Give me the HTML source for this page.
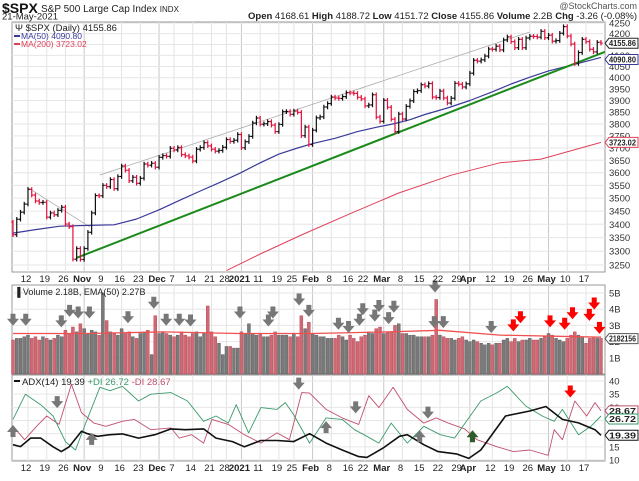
<!DOCTYPE html>
<html><head><meta charset="utf-8"><style>
html,body{margin:0;padding:0;background:#fff;}
body{width:639px;height:476px;overflow:hidden;font-family:"Liberation Sans",sans-serif;}
svg text{font-family:"Liberation Sans",sans-serif;}
</style></head><body>
<svg id="chart" width="639" height="476" xmlns="http://www.w3.org/2000/svg">
<text x="2" y="13" font-size="14" font-weight="bold" fill="#111">$SPX</text>
<text x="41" y="12" font-size="10" fill="#222">S&amp;P 500 Large Cap Index <tspan font-size="8">INDX</tspan></text>
<text x="2" y="19.5" font-size="9.5" fill="#222">21-May-2021</text>
<text x="637" y="9" font-size="9" fill="#555" text-anchor="end">@StockCharts.com</text>
<text x="248" y="19" font-size="9.5" fill="#222"><tspan font-weight="bold">Open</tspan> 4168.61 <tspan font-weight="bold">High</tspan> 4188.72 <tspan font-weight="bold">Low</tspan> 4151.72 <tspan font-weight="bold">Close</tspan> 4155.86 <tspan font-weight="bold">Volume</tspan> 2.2B <tspan font-weight="bold">Chg</tspan> -3.26 (-0.08%) <tspan fill="#c00">▾</tspan></text>
<g id="main"></g>
</svg>
<script>
// ---- data ----
const closes = [3361,3419,3446,3477,3534,3512,3489,3483,3484,3427,3443,3436,3453,3465,3401,3391,3271,3310,3270,
3310,3370,3443,3510,3509,3550,3545,3573,3537,3585,3627,3610,3568,3582,3558,3578,3635,3630,3638,3622,
3662,3669,3666,3699,3692,3702,3673,3668,3663,3647,3695,3702,3722,3709,3695,3687,3690,3703,3735,3727,3732,3756,
3701,3726,3748,3804,3825,3799,3801,3810,3795,3768,3798,3852,3853,3841,3855,3849,3751,3787,3714,
3774,3826,3830,3872,3887,3915,3911,3909,3917,3934,3933,3931,3914,3907,3877,3881,3925,3829,3811,
3901,3871,3820,3768,3842,3821,3875,3899,3939,3943,3969,3963,3974,3915,3913,3941,3911,3889,3910,3975,3971,3959,3973,
4020,4078,4074,4080,4097,4129,4128,4142,4125,4171,4185,4163,4135,4174,4135,4180,4188,4187,4184,4211,4181,
4193,4165,4168,4202,4233,4189,4152,4063,4113,4174,4163,4128,4116,4160,4156];
const firstOpen = 3408;
const volumes = [2.1,2.2,2.2,2.3,2.4,2.2,2.3,2.1,2.3,2.2,2.1,2.2,2.4,2.3,2.7,2.5,2.9,2.6,3.1,
2.8,2.5,2.7,2.6,2.4,5.0,3.3,2.6,2.5,2.4,2.8,2.5,2.6,2.3,2.2,2.5,2.6,2.7,1.2,3.6,
2.5,2.6,2.5,2.4,2.3,2.4,2.6,2.4,2.3,2.5,2.6,2.3,2.5,4.2,2.6,2.3,1.9,1.2,1.7,1.7,1.6,1.6,
2.6,2.5,3.1,2.5,2.4,2.5,2.3,2.3,2.4,2.6,2.4,2.4,2.4,2.3,2.5,2.3,3.6,2.8,3.2,
2.5,2.4,2.3,2.3,2.2,2.2,2.2,2.4,2.3,2.1,2.4,2.2,2.0,2.3,2.4,2.6,2.5,2.8,2.9,
2.5,2.6,2.6,3.0,3.1,2.5,2.5,2.4,2.4,2.3,2.3,2.3,2.3,2.4,4.6,2.4,2.3,2.2,2.2,2.1,2.2,2.3,2.1,
2.0,2.1,2.0,1.9,1.8,1.9,1.8,1.9,1.9,2.1,2.2,2.0,2.2,2.0,2.1,2.1,2.2,2.1,2.1,2.2,2.3,
2.5,2.4,2.2,2.1,2.0,2.2,2.4,2.6,2.4,2.3,1.9,2.2,2.3,2.2,2.2];
const volEmaIdx = [0,20,40,60,80,100,114,130,157];
const volEmaVal = [2.5,2.5,2.6,2.5,2.5,2.6,2.7,2.4,2.27];
const ma50Idx = [0,6,12.5,20,27,33,39,45,50,55,60.6,66,71,76,80,86,92,97,102,106,110,116,122,128,133,138,143,150,157];
const ma50Val = [3367,3380,3393,3396,3398,3420,3455,3495,3528,3560,3598,3640,3675,3700,3718,3740,3768,3786,3802,3818,3840,3868,3900,3938,3972,4002,4030,4060,4091];
const ma200Idx = [57,66,77,90,103,117,130,141,157];
const ma200Val = [3230,3290,3360,3440,3520,3590,3640,3655,3723];
const adxIdx = [0,2,4.7,7.4,10.7,12.9,15,18.3,19.9,22.6,25.9,29.2,33.5,37.9,42.2,46,50.9,54.2,58.6,61.8,66.2,70.5,74.9,79.2,83.6,87.9,92.3,94.5,98.8,103.2,105.3,109.7,113.5,118.4,121.7,124.9,131.5,138,142.3,146.7,151,155.4,157];
const adxVal = [15.8,15.1,18.3,18.3,15,13.2,15,20.9,20,19,19.6,19.9,18.3,19.6,21.8,21.5,21.8,18.3,17,15,17.4,17.4,17,20,16.4,13.8,11.3,11,14.5,19,19.6,15.8,13.2,12.3,10.6,13.8,26.7,28.6,30.3,25.4,24.1,21.5,19.39];
const pdiIdx = [0,3.3,7.4,10.7,14,16.7,19.4,23.2,25.9,29.2,33.5,36.8,42.2,46.6,50.9,54.2,57.5,59.6,62.9,66.2,70.5,72.7,74.9,79.2,83.6,87.9,91.2,94.5,97.7,101,105.3,109.7,114.1,117.9,121.7,124.9,129.3,132,136.9,141.3,144.5,146.7,151,154.3,157];
const pdiVal = [25.4,35,31,26.7,17,13.8,24,37.6,36.3,38,32.4,35,35.6,32.4,24.7,26.7,24,31,20.3,29.9,29.2,31.8,27.3,16.4,26,25.4,21.5,19,16.4,24,16.4,22.8,19.6,18.3,26,32.4,35.6,38,30.5,26.7,24.7,29.2,19.6,22.8,26.72];
const mdiIdx = [0,3.1,6.3,9,12.3,15.6,18.3,21.6,24.8,29.2,32.4,36.8,42.2,44.4,47.7,50.9,53.1,57.5,61.8,66.2,70.5,73.8,77.1,79.2,83.6,87.9,92.3,95,97.7,101.5,105.3,109.7,113,116.2,120.6,123.9,129.3,133.6,138,142.9,144.5,146.7,150,153.2,155.4,157];
const mdiVal = [22.8,17.7,22.8,26.7,23.5,38.8,28,24,22.8,24.7,25.4,21.5,22.2,18.3,19.6,16.4,25.4,23.5,19.6,16.4,20.3,17.7,35.6,35.4,29.2,26,23.5,34.4,29.9,37.6,29.2,24,26,24,21.8,17.7,15,13.2,13.8,11.8,21.5,17.7,32.4,26.7,31.8,28.67];
const priceTicks = [3250,3300,3350,3400,3450,3500,3550,3600,3650,3700,3750,3800,3850,3900,3950,4000,4050,4100,4150,4200,4250];
const volTicks = [1,2,3,4,5];
const adxTicks = [10,15,20,25,30,35,40];
const dateIdx = [4,9,14,19,24,29,34,39,43,48,53,57,61,66,71,75,80,85,90,94,99,104,109,114,119,122,128,133,138,143,148,153];
const dateLbl = ["12","19","26","Nov","9","16","23","Dec","7","14","21","28","2021","11","19","25","Feb","8","16","22","Mar","8","15","22","29","Apr","12","19","26","May","10","17"];
const trendIdx = [17,158]; const trendVal = [3276,4116];
const grey1Idx = [3.7,20.6]; const grey1Val = [3544,3389];
const grey2Idx = [23.2,138]; const grey2Val = [3591,4208];
const volArrowIdx = [0,3.4,12.9,15.1,17.4,20.4,30.7,37.6,40.9,44.4,47.4,60.6,68.2,69.4,76.4,79,86.9,89.6,92.5,93.4,96.6,97.7,100.3,101.7,112.5,112.7,114.9,127.7];
const volArrowVal = [3.35,3.35,3.25,3.9,3.8,3.8,3.5,4.4,3.35,3.35,3.3,3.8,3.3,3.8,4.6,3.9,3.1,2.9,3.35,4.0,3.6,4.2,3.45,4.15,3.2,5.4,3.2,2.9];
const volRedIdx = [133.6,135.5,143.4,147.3,149.4,153.9,155.2,156.6];
const volRedVal = [3.0,3.5,3.25,3.1,3.75,3.65,4.35,2.85];
const adxDownIdx = [11.8,76.3,91.5,110.8]; const adxDownVal = [32,39,30,28];
const adxUpIdx = [0,21,83.6,108.6]; const adxUpVal = [21,18,22.5,19];
// ---- layout ----
const NS="http://www.w3.org/2000/svg";
const root=document.getElementById('main');
const L=12,R=605;
const xOf=i=>13+i*3.745;
const PT=22,PB=272, VT=285,VB=374, AT=375,AB=461;
const yP=p=>23+Math.log(4250/p)/Math.log(4250/3250)*242;
const yV=v=>374-v*16.2;
const yA=v=>381+(40-v)*2.633;
function mk(tag,attrs,parent){const e=document.createElementNS(NS,tag);for(const k in attrs)e.setAttribute(k,attrs[k]);(parent||root).appendChild(e);return e;}
function panel(top,bot,name){
  const g=mk('g',{});
  
  
  mk('rect',{x:L,y:top,width:R-L,height:bot-top,fill:'#fff',stroke:'#999','stroke-width':1},g);
  return g;
}
const gMain=panel(PT,PB,'price-panel');
const gVol=panel(VT,VB,'volume-panel');
const gAdx=panel(AT,AB,'adx-panel');
function vgrid(g,top,bot){dateIdx.forEach((d,k)=>{const l=mk('line',{x1:xOf(d),x2:xOf(d),y1:top,y2:bot,stroke:dateLbl[k].match(/[A-Za-z]|2021/)?'#c8c8c8':'#e4e4e4','stroke-width':1},g);});}
vgrid(gMain,PT,PB);vgrid(gVol,VT,VB);vgrid(gAdx,AT,AB);
priceTicks.forEach(p=>{const y=yP(p);
  const l=mk('line',{x1:L,x2:R,y1:y,y2:y,stroke:'#e6e6e6'},gMain);
  
  
  const t=mk('text',{x:609,y:y+3.5,'font-size':9.5,fill:'#333'},gMain);t.textContent=p;
  
  });
volTicks.forEach(v=>{const y=yV(v);
  const l=mk('line',{x1:L,x2:R,y1:y,y2:y,stroke:'#e6e6e6'},gVol);
  
  
  const t=mk('text',{x:609,y:y+3.5,'font-size':9.5,fill:'#333'},gVol);t.textContent=v+'B';
  
  });
adxTicks.forEach(v=>{const y=yA(v);
  const l=mk('line',{x1:L,x2:R,y1:y,y2:y,stroke:'#e6e6e6'},gAdx);
  
  
  const t=mk('text',{x:609,y:y+3.5,'font-size':9.5,fill:'#333'},gAdx);t.textContent=v;
  
  });
function dateAxis(y,name){dateIdx.forEach((d,k)=>{const s=dateLbl[k];const bold=/[A-Za-z]|2021/.test(s);
  const t=mk('text',{x:xOf(d)-2,y:y,'font-size':9.5,'text-anchor':'middle',fill:'#222','font-weight':bold?'bold':'normal'});t.textContent=s;
  
  });}
dateAxis(282,'date-label-top');dateAxis(471,'date-label-bottom');
const defs=mk('defs',{});
const cp=mk('clipPath',{id:'cpMain'},defs);mk('rect',{x:L,y:PT,width:R-L,height:PB-PT},cp);
const cpa=mk('clipPath',{id:'cpAdx'},defs);mk('rect',{x:L,y:AT,width:R-L,height:AB-AT},cpa);
function poly(g,idx,val,fy,color,w,name,clip){const pts=idx.map((d,k)=>xOf(d).toFixed(1)+','+fy(val[k]).toFixed(1)).join(' ');
  const e=mk('polyline',{points:pts,fill:'none',stroke:color,'stroke-width':w,'stroke-linejoin':'round'},g);if(clip)e.setAttribute('clip-path','url(#'+clip+')');
  
  return e;}
poly(gMain,grey1Idx,grey1Val,yP,'#aaa',0.8,'trendline-grey-down','cpMain');
poly(gMain,grey2Idx,grey2Val,yP,'#aaa',0.8,'trendline-grey-up','cpMain');
poly(gMain,ma200Idx,ma200Val,yP,'#e0405a',1,'ma200-line','cpMain');
poly(gMain,ma50Idx,ma50Val,yP,'#3a3a9a',1.2,'ma50-line','cpMain');
poly(gMain,trendIdx,trendVal,yP,'#1a8a1a',2,'trendline-green','cpMain');
closes.forEach((c,i)=>{const o=i?closes[i-1]:firstOpen;const col=c<o?'#e3103c':'#111';
  const hi=Math.max(o,c)*1.0025,lo=Math.min(o,c)*0.9975;const x=xOf(i);
  const g=mk('g',{stroke:col,'stroke-width':1.2},gMain);
  
  
  mk('line',{x1:x,x2:x,y1:yP(hi),y2:yP(lo)},g);
  mk('line',{x1:x-1.8,x2:x,y1:yP(o),y2:yP(o)},g);
  mk('line',{x1:x,x2:x+1.8,y1:yP(c),y2:yP(c)},g);});
volumes.forEach((v,i)=>{const o=i?closes[i-1]:firstOpen;const down=closes[i]<o;
  const r=mk('rect',{x:xOf(i)-1.5,y:yV(v),width:3,height:VB-yV(v),fill:down?'#cf6a74':'#7a7a7a',stroke:down?'#b04050':'#555','stroke-width':0.4},gVol);
  
  });
poly(gVol,volEmaIdx,volEmaVal,yV,'#f05050',1.3,'volume-ema-line');
function arrow(g,x,y,dir,col,name){const d=dir<0?
  `M${x-2.5},${y-6}h5v5h3.5l-6,7l-6,-7h3.5z`:`M${x-2.5},${y+6}h5v-5h3.5l-6,-7l-6,7h3.5z`;
  const p=mk('path',{d:d,fill:col},g);
  
  }
volArrowIdx.forEach((d,k)=>arrow(gVol,xOf(d),yV(volArrowVal[k]),-1,'#777','volume-grey-arrow'));
volRedIdx.forEach((d,k)=>arrow(gVol,xOf(d),yV(volRedVal[k]),-1,'#f00','volume-red-arrow'));
poly(gAdx,mdiIdx,mdiVal,yA,'#c0506e',0.9,'minus-di-line','cpAdx');
poly(gAdx,pdiIdx,pdiVal,yA,'#3a9a6a',0.9,'plus-di-line','cpAdx');
poly(gAdx,adxIdx,adxVal,yA,'#111',1.6,'adx-line','cpAdx');
adxDownIdx.forEach((d,k)=>arrow(gAdx,xOf(d),yA(adxDownVal[k]),-1,'#777','adx-grey-down-arrow'));
adxUpIdx.forEach((d,k)=>arrow(gAdx,Math.max(xOf(d),7),yA(adxUpVal[k]),1,'#777','adx-grey-up-arrow'));
arrow(gAdx,xOf(122.7),yA(19),1,'#2f5a2a','adx-green-up-arrow');
arrow(gAdx,xOf(148.8),yA(36),-1,'#f00','adx-red-down-arrow');
function txt(x,y,s,col,fs,name,g){const t=mk('text',{x:x,y:y,'font-size':fs,fill:col},g||root);t.textContent=s;
  
  return t;}
txt(15,31,'\u03A8 $SPX (Daily) 4155.86','#222',9.5,'legend-price');
mk('line',{x1:14,x2:20,y1:36,y2:36,stroke:'#3a3a9a','stroke-width':2});
txt(21,39,'MA(50) 4090.80','#3a3a9a',8.5,'legend-ma50');
mk('line',{x1:14,x2:20,y1:44,y2:44,stroke:'#e0405a','stroke-width':2});
txt(21,47,'MA(200) 3723.02','#e0405a',8.5,'legend-ma200');
txt(14,295,'\u2590 Volume 2.18B, EMA(50) 2.27B','#222',9,'legend-volume');
mk('line',{x1:14,x2:20,y1:381,y2:381,stroke:'#111','stroke-width':2});
const ta=txt(22,385,'ADX(14) 19.39 ','#222',9.5,'legend-adx');
const t1=mk('tspan',{fill:'#3a9a6a'},ta);t1.textContent='+DI 26.72 ';
const t2=mk('tspan',{fill:'#c0506e'},ta);t2.textContent='-DI 28.67';
function box(y,s,col,name){const g=mk('g',{});
  
  
  mk('path',{d:`M605,${y} l4,-5 h29 v10 h-29z`,fill:'#fff',stroke:col,'stroke-width':1},g);
  const t=mk('text',{x:609,y:y+3,'font-size':8.3,fill:'#222','font-weight':'bold',textLength:27,lengthAdjust:'spacingAndGlyphs'},g);t.textContent=s;}
box(yP(4155.86),'4155.86','#222','last-price-box');
box(yP(4090.8)+2,'4090.80','#3a3a9a','ma50-value-box');
box(yP(3723.02),'3723.02','#e0405a','ma200-value-box');
box(yV(2.18),'2182156','#555','volume-value-box');
box(yA(28.67),'28.67','#c0506e','minus-di-box');
box(yA(26.72)+3,'26.72','#3a9a6a','plus-di-box');
box(yA(19.39),'19.39','#111','adx-value-box');
</script>
</body></html>
